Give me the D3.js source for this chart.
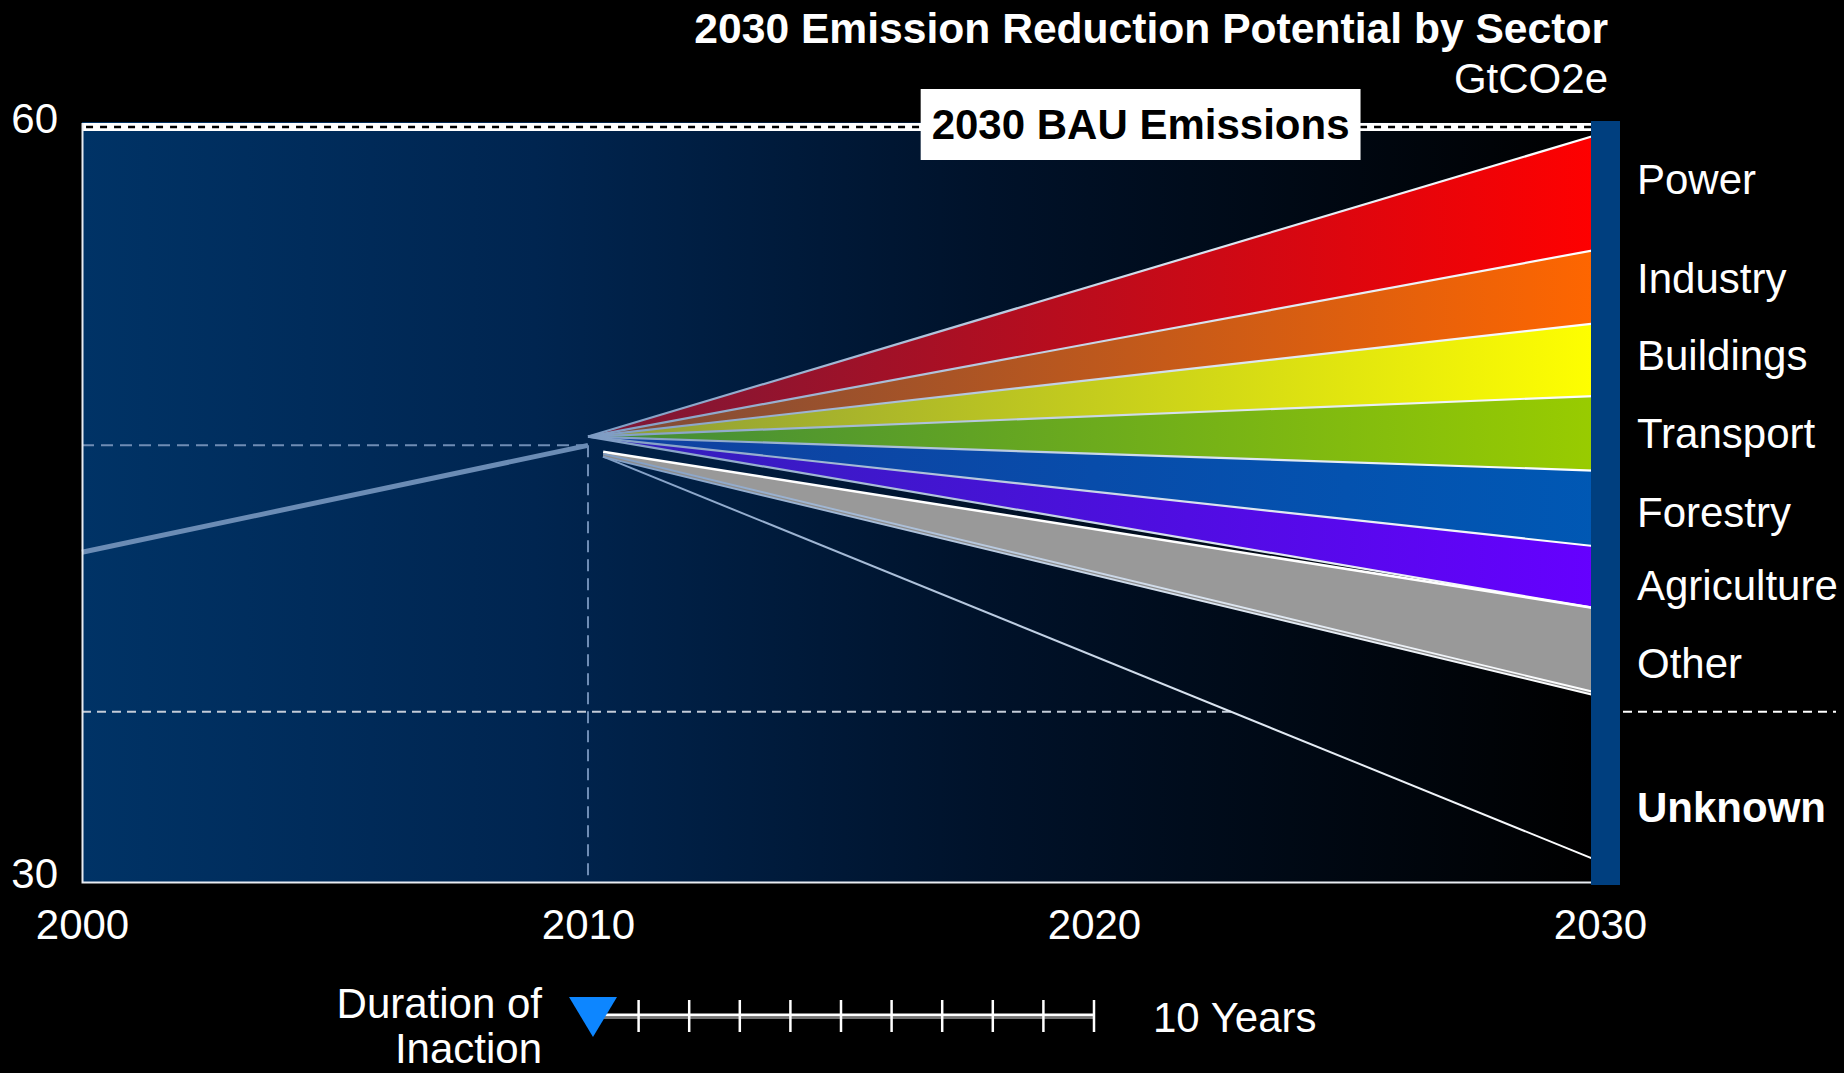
<!DOCTYPE html>
<html>
<head>
<meta charset="utf-8">
<script src="https://cdn.jsdelivr.net/npm/d3@7"></script>
<style>
  html, body { margin: 0; padding: 0; background: #000; }
  svg { display: block; }
  text { font-family: "Liberation Sans", Arial, Helvetica, sans-serif; fill: #fff; }
</style>
</head>
<body>
<svg id="chart" width="1844" height="1073"></svg>
<script>
// ---- Data (GtCO2e) ----
const axisYears = [2000, 2010, 2020, 2030];
const axisValues = [30, 60];
const historyYears = [2000, 2010];
const historyValues = [43.1, 47.35];
const sectors = ["Power", "Industry", "Buildings", "Transport", "Forestry", "Agriculture", "Other"];
// wedge boundaries in 2030, from the top of Power down to the bottom of Other
const sectorEdges2030 = [59.72, 55.15, 52.22, 49.32, 46.34, 43.32, 40.85, 37.43];
const fanYear = 2010;
const fanValue = 47.7;
const otherStartYear = 2010.3;
const otherStartValues = [47.1, 46.95];
const unknownStartValue = 46.9;
const unknownEnd2030 = 30.81;
const bauValue = 60;
const knownFloor = 36.76;
const inactionYears = 10;
const unknownLabel = "Unknown";
const bauLabel = "2030 BAU Emissions";

// ---- Styles ----
const sectorColorsFrom = ["#7a1838", "#7a4a3a", "#8a9a3a", "#3f8a3a", "#1040a0", "#3020b8", "#999999"];
const sectorColorsTo   = ["#ff0000", "#ff6600", "#ffff00", "#99cc00", "#0058b4", "#6600ff", "#999999"];
const FONT = 42;

const svg = d3.select("#chart");
const defs = svg.append("defs");

const x = d3.scaleLinear().domain([2000, 2030]).range([82, 1600]);
const y = d3.scaleLinear().domain([30, 60]).range([882, 127]);

const barLeft = x(2030) - 9, barRight = x(2030) + 20;

// background gradient: deep blue fading to black
const bg = defs.append("linearGradient").attr("id", "bgGrad")
  .attr("gradientUnits", "userSpaceOnUse")
  .attr("x1", x(2000)).attr("x2", barLeft).attr("y1", 0).attr("y2", 0);
[[0, "#003366"], [0.3, "#002550"], [0.6, "#00122a"], [1, "#000000"]]
  .forEach(([o, c]) => bg.append("stop").attr("offset", o).attr("stop-color", c));

svg.append("rect")
  .attr("x", x(2000)).attr("y", y(bauValue) - 5)
  .attr("width", barLeft - x(2000)).attr("height", y(30) - y(bauValue) + 5)
  .attr("fill", "url(#bgGrad)");

// gradients for the sector wedges
sectors.forEach((s, i) => {
  const g = defs.append("linearGradient").attr("id", "sec" + i)
    .attr("gradientUnits", "userSpaceOnUse")
    .attr("x1", x(fanYear)).attr("x2", x(2030)).attr("y1", 0).attr("y2", 0);
  g.append("stop").attr("offset", 0).attr("stop-color", sectorColorsFrom[i]);
  g.append("stop").attr("offset", 1).attr("stop-color", sectorColorsTo[i]);
});
// boundary-line gradient: steel blue near 2010, white by 2030
const eg = defs.append("linearGradient").attr("id", "edgeGrad")
  .attr("gradientUnits", "userSpaceOnUse")
  .attr("x1", x(fanYear)).attr("x2", x(2030)).attr("y1", 0).attr("y2", 0);
eg.append("stop").attr("offset", 0).attr("stop-color", "#7d9bc3");
eg.append("stop").attr("offset", 0.6).attr("stop-color", "#d8e2ee");
eg.append("stop").attr("offset", 1).attr("stop-color", "#ffffff");

const line = d3.line().x(d => x(d[0])).y(d => y(d[1]));

// 2010 reference (dashed crosshair)
const ref = svg.append("g").attr("fill", "none").attr("stroke", "#6f8db5")
  .attr("stroke-width", 2).attr("stroke-dasharray", "12 7");
ref.append("path").attr("d", line([[2000, historyValues[1]], [2010, historyValues[1]]]));
ref.append("path").attr("d", line([[2010, historyValues[1]], [2010, 30]]));

// known-reduction floor, running until it meets the unknown line
const unkSlope = (unknownEnd2030 - unknownStartValue) / (2030 - otherStartYear);
const meetYear = otherStartYear + (knownFloor - unknownStartValue) / unkSlope;
svg.append("path").attr("d", line([[2000, knownFloor], [meetYear, knownFloor]]))
  .attr("fill", "none").attr("stroke", "#c4ccd8").attr("stroke-width", 2)
  .attr("stroke-dasharray", "9 6");

// historical emissions
svg.append("path").attr("d", line(historyYears.map((yr, i) => [yr, historyValues[i]])))
  .attr("fill", "none").attr("stroke", "#6b8cb5").attr("stroke-width", 5);

// sector wedges fanning out from 2010
const wedges = svg.append("g");
sectors.forEach((s, i) => {
  let pts;
  if (i < sectors.length - 1) {
    pts = [[fanYear, fanValue], [2030, sectorEdges2030[i]], [2030, sectorEdges2030[i + 1]]];
  } else {
    pts = [[otherStartYear, otherStartValues[0]], [2030, sectorEdges2030[i]],
           [2030, sectorEdges2030[i + 1]], [otherStartYear, otherStartValues[1]]];
  }
  wedges.append("path").attr("d", line(pts) + "Z").attr("fill", `url(#sec${i})`);
});

// wedge boundary lines
const edges = svg.append("g").attr("fill", "none");
for (let i = 0; i < sectors.length; i++) {
  edges.append("path")
    .attr("d", line([[fanYear, fanValue], [2030, sectorEdges2030[i]]]))
    .attr("stroke", "url(#edgeGrad)").attr("stroke-width", 2.2);
}
// Other: white top edge, doubled bottom edge
edges.append("path")
  .attr("d", line([[otherStartYear, otherStartValues[0]], [2030, sectorEdges2030[6]]]))
  .attr("stroke", "#ffffff").attr("stroke-width", 2.5);
edges.append("path")
  .attr("d", line([[otherStartYear, otherStartValues[1]], [2030, sectorEdges2030[7]]]))
  .attr("stroke", "url(#edgeGrad)").attr("stroke-width", 5);
edges.append("path")
  .attr("d", line([[otherStartYear, otherStartValues[1]], [2030, sectorEdges2030[7]]]))
  .attr("stroke", "#8c8c8c").attr("stroke-width", 1.2);
// unknown pathway
edges.append("path")
  .attr("d", line([[otherStartYear, unknownStartValue], [2030, unknownEnd2030]]))
  .attr("stroke", "url(#edgeGrad)").attr("stroke-width", 2);

// BAU line: white band with black dashes
svg.append("path").attr("d", line([[2000, bauValue], [2030, bauValue]]))
  .attr("stroke", "#ffffff").attr("stroke-width", 8).attr("fill", "none");
svg.append("path").attr("d", line([[2000 + 0.08, bauValue], [2030, bauValue]]))
  .attr("stroke", "#000").attr("stroke-width", 2.6).attr("stroke-dasharray", "7 7").attr("fill", "none");

// frame: left and bottom
svg.append("path")
  .attr("d", `M${x(2000) + 0.5},${y(bauValue) - 4}V${y(30) + 0.5}H${barLeft}`)
  .attr("fill", "none").attr("stroke", "#e8ecf2").attr("stroke-width", 2);

// 2030 bar
svg.append("rect")
  .attr("x", barLeft).attr("y", y(bauValue) - 6)
  .attr("width", barRight - barLeft).attr("height", y(30) - y(bauValue) + 9)
  .attr("fill", "#003f7f");

// BAU label box
const bauG = svg.append("g");
const bauText = bauG.append("text")
  .attr("x", x(2021) - 4).attr("y", y(bauValue) + 12)
  .attr("text-anchor", "middle").attr("font-size", FONT).attr("font-weight", "bold")
  .style("fill", "#000").text(bauLabel);
const bb = bauText.node().getBBox();
bauG.insert("rect", "text")
  .attr("x", bb.x - 11).attr("y", y(bauValue) - 38)
  .attr("width", bb.width + 22).attr("height", 71)
  .attr("fill", "#ffffff");

// sector labels: each sits where its wedge's centre line reaches one year past 2030
const labelX = barRight + 17;
const labelYear = 2031;
const spread = (labelYear - fanYear) / (2030 - fanYear);
sectors.forEach((s, i) => {
  const mid = (sectorEdges2030[i] + sectorEdges2030[i + 1]) / 2;
  const v = fanValue + (mid - fanValue) * spread;
  svg.append("text").attr("x", labelX).attr("y", y(v) + 15)
    .attr("font-size", FONT).text(s);
});
// separator between known and unknown reductions
svg.append("path").attr("d", `M${barRight + 3},${y(knownFloor)}H1836`)
  .attr("stroke", "#ffffff").attr("stroke-width", 2).attr("stroke-dasharray", "9 6");
svg.append("text").attr("x", labelX).attr("y", y((knownFloor + 30) / 2) + 25)
  .attr("font-size", FONT).attr("font-weight", "bold").text(unknownLabel);

// axes
const yAxis = svg.append("g").attr("transform", `translate(${x(2000)},0)`)
  .call(d3.axisLeft(y).tickValues(axisValues).tickSize(0).tickPadding(24));
yAxis.select(".domain").remove();
yAxis.selectAll("text").attr("font-size", FONT).attr("dy", "0.12em")
  .attr("font-family", null).style("fill", "#fff");
yAxis.attr("font-family", null).attr("font-size", null);

const xAxis = svg.append("g").attr("transform", `translate(0,${y(30)})`)
  .call(d3.axisBottom(x).tickValues(axisYears).tickFormat(d3.format("d")).tickSize(0).tickPadding(27));
xAxis.select(".domain").remove();
xAxis.selectAll("text").attr("font-size", FONT).style("fill", "#fff");
xAxis.attr("font-family", null).attr("font-size", null);

// title
svg.append("text").attr("x", 1608).attr("y", 43).attr("text-anchor", "end")
  .attr("font-size", 42.6).attr("font-weight", "bold")
  .text("2030 Emission Reduction Potential by Sector");
svg.append("text").attr("x", 1608).attr("y", 93).attr("text-anchor", "end")
  .attr("font-size", FONT).text("GtCO2e");

// duration-of-inaction gauge: one tick per year from 2010
const tlY = 1015;
const tl = svg.append("g");
tl.append("line").attr("x1", x(fanYear)).attr("x2", x(fanYear + inactionYears))
  .attr("y1", tlY + 3).attr("y2", tlY + 3).attr("stroke", "#9a9a9a").attr("stroke-width", 1.5);
tl.append("line").attr("x1", x(fanYear)).attr("x2", x(fanYear + inactionYears))
  .attr("y1", tlY).attr("y2", tlY).attr("stroke", "#fff").attr("stroke-width", 3);
d3.range(1, inactionYears + 1).forEach(k => {
  tl.append("line").attr("x1", x(fanYear + k)).attr("x2", x(fanYear + k))
    .attr("y1", tlY - 15).attr("y2", tlY + 17).attr("stroke", "#fff").attr("stroke-width", 2.5);
});
const triX = x(fanYear) + 5;
tl.append("path")
  .attr("d", `M${triX - 24},${tlY - 18}L${triX + 24},${tlY - 18}L${triX},${tlY + 22}Z`)
  .attr("fill", "#0d86ff");
tl.append("text").attr("x", x(fanYear + inactionYears) + 59).attr("y", 1032)
  .attr("font-size", FONT).text(inactionYears + " Years");
tl.append("text").attr("x", 542).attr("y", 1018).attr("text-anchor", "end")
  .attr("font-size", FONT).text("Duration of");
tl.append("text").attr("x", 542).attr("y", 1063).attr("text-anchor", "end")
  .attr("font-size", FONT).text("Inaction");
</script>
</body>
</html>
